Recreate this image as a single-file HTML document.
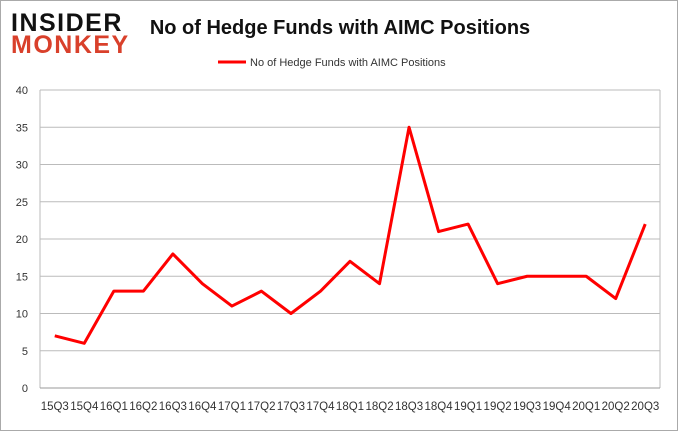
<!DOCTYPE html>
<html><head><meta charset="utf-8"><style>
body{margin:0;background:#fff}
#c{position:relative;width:676px;height:429px;border:1px solid #aaa;background:#fff;font-family:"Liberation Sans",sans-serif;overflow:hidden}
</style></head><body>
<div id="c">
<svg width="676" height="429">
<g>
<text x="10" y="30" font-size="25" font-weight="bold" fill="#111" letter-spacing="1.5">INSIDER</text>
<text x="10" y="52" font-size="25" font-weight="bold" fill="#d9402b" letter-spacing="1.5">MONKEY</text>
</g>
<text x="339" y="33" font-size="20" font-weight="bold" text-anchor="middle" fill="#111">No of Hedge Funds with AIMC Positions</text>
<g>
<line x1="217" y1="61" x2="245" y2="61" stroke="#f00" stroke-width="3"/>
<text x="249" y="65" font-size="11" fill="#333">No of Hedge Funds with AIMC Positions</text>
</g>
<g id="grid"></g><g id="ax"></g><g id="ser"></g>
</svg>
</div>
<script>
const categories=["15Q3","15Q4","16Q1","16Q2","16Q3","16Q4","17Q1","17Q2","17Q3","17Q4","18Q1","18Q2","18Q3","18Q4","19Q1","19Q2","19Q3","19Q4","20Q1","20Q2","20Q3"];
const values=[7,6,13,13,18,14,11,13,10,13,17,14,35,21,22,14,15,15,15,12,22];
const yTicks=[0,5,10,15,20,25,30,35,40];
const ns="http://www.w3.org/2000/svg";
const L=39,R=659,T=89,B=387;
const y=v=>B-(v/40)*(B-T);
const bw=(R-L)/categories.length;
const x=i=>L+bw*(i+0.5);
function mk(t,a,p){const e=document.createElementNS(ns,t);for(const k in a)e.setAttribute(k,a[k]);p.appendChild(e);return e;}
const g=document.getElementById('grid'),ax=document.getElementById('ax'),s=document.getElementById('ser');
yTicks.forEach(v=>{
 const l=mk('line',{x1:L,x2:R,y1:y(v),y2:y(v),stroke:'#bbb','stroke-width':1},g);
 
 
 const t=mk('text',{x:L-12,y:y(v)+4,'font-size':11,'text-anchor':'end',fill:'#333'},ax);
 t.textContent=v;
 
 
});
const bl=mk('line',{x1:L,x2:R,y1:B,y2:B,stroke:'#999'},ax);


mk('line',{x1:R,x2:R,y1:T,y2:B,stroke:'#bbb'},g);
mk('line',{x1:L,x2:L,y1:T,y2:B,stroke:'#bbb'},g);
categories.forEach((c,i)=>{
 const t=mk('text',{x:x(i),y:409,'font-size':11.5,'text-anchor':'middle',fill:'#333'},ax);
 t.textContent=c;
 
 
});
const p=mk('polyline',{points:values.map((v,i)=>x(i)+','+y(v)).join(' '),fill:'none',stroke:'#f00','stroke-width':3,'stroke-linejoin':'round'},s);


</script>
</body></html>
